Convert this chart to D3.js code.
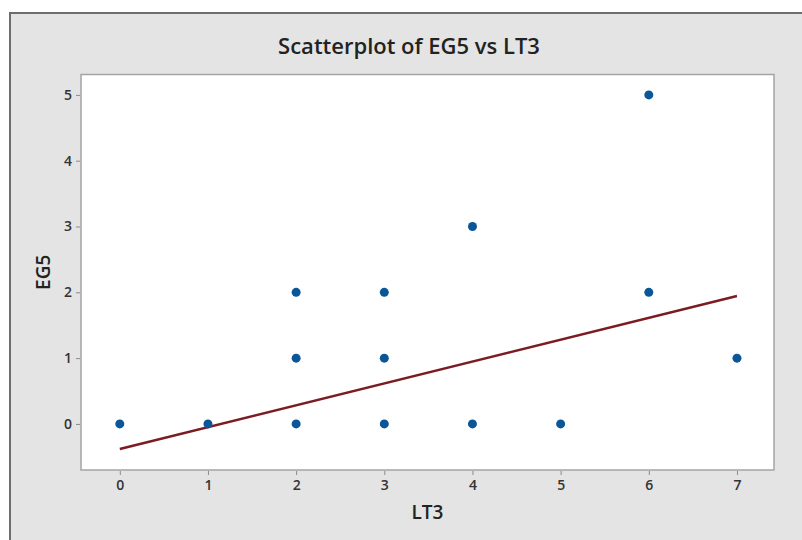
<!DOCTYPE html>
<html>
<head>
<meta charset="utf-8">
<script src="https://cdn.jsdelivr.net/npm/d3@7"></script>
<style>
  body { margin: 0; background: #fff; }
  svg { display: block; }
  text { font-family: "Open Sans", "Noto Sans", sans-serif; fill: #222; }
</style>
</head>
<body>
<div class="container"></div>
<script>
// data
var lt3 = [0, 1, 2, 2, 2, 3, 3, 3, 4, 4, 5, 6, 6, 7];
var eg5 = [0, 0, 0, 1, 2, 0, 1, 2, 0, 3, 0, 2, 5, 1];
var xTicks = [0, 1, 2, 3, 4, 5, 6, 7];
var yTicks = [0, 1, 2, 3, 4, 5];
// fitted line (intercept / slope)
var fitIntercept = -0.38;
var fitSlope = 0.332;

var width = 802, height = 540;
var plot = {left: 81, right: 774, top: 74.5, bottom: 470};

var svg = d3.select('.container').append('svg')
	.attr('width', width)
	.attr('height', height);

// outer grey panel with frame (runs off right and bottom edges)
svg.append('rect')
	.attr('x', 10).attr('y', 13)
	.attr('width', width + 10).attr('height', height + 10)
	.style('fill', '#e4e4e4')
	.style('stroke', '#6e6e6e')
	.style('stroke-width', 2);

var x = d3.scaleLinear().domain([-0.44, 7.42]).range([plot.left, plot.right]);
var y = d3.scaleLinear().domain([-0.70, 5.31]).range([plot.bottom, plot.top]);

svg.append('rect')
	.attr('x', plot.left).attr('y', plot.top)
	.attr('width', plot.right - plot.left).attr('height', plot.bottom - plot.top)
	.style('fill', '#fff')
	.style('stroke', '#a4a4a4')
	.style('stroke-width', 1.5);

// axes
var xAxis = svg.append('g')
	.attr('transform', 'translate(0,' + (plot.bottom + 1) + ')')
	.call(d3.axisBottom(x).tickValues(xTicks).tickSize(4).tickPadding(5).tickFormat(d3.format('d')));
var yAxis = svg.append('g')
	.attr('transform', 'translate(' + (plot.left - 1) + ',0)')
	.call(d3.axisLeft(y).tickValues(yTicks).tickSize(4).tickPadding(4).tickFormat(d3.format('d')));

[xAxis, yAxis].forEach(function(a) {
	a.select('.domain').remove();
	a.selectAll('.tick line').style('stroke', '#8a8a8a');
	a.selectAll('.tick text')
		.style('font-size', '14px')
		.style('font-weight', '600')
		.style('fill', '#333');
});

// regression line
var fit = d3.line()
	.x(function(d) { return x(d); })
	.y(function(d) { return y(fitIntercept + fitSlope * d); });
svg.append('path')
	.datum([0, 7])
	.attr('d', fit)
	.style('fill', 'none')
	.style('stroke', '#7a1c22')
	.style('stroke-width', 2.5);

// points
svg.selectAll('circle.pt').data(lt3).enter().append('circle')
	.attr('class', 'pt')
	.attr('cx', function(d) { return x(d); })
	.attr('cy', function(d, i) { return y(eg5[i]); })
	.attr('r', 4.5)
	.style('fill', '#0b5699');

// titles
svg.append('text')
	.attr('x', 409).attr('y', 54)
	.attr('text-anchor', 'middle')
	.style('font-size', '22px')
	.style('font-weight', '600')
	.text('Scatterplot of EG5 vs LT3');

svg.append('text')
	.attr('x', (plot.left + plot.right) / 2).attr('y', 519)
	.attr('text-anchor', 'middle')
	.style('font-size', '19px')
	.style('font-weight', '600')
	.text('LT3');

svg.append('text')
	.attr('transform', 'translate(50,' + ((plot.top + plot.bottom) / 2) + ') rotate(-90)')
	.attr('text-anchor', 'middle')
	.style('font-size', '19px')
	.style('font-weight', '600')
	.text('EG5');
</script>
</body>
</html>
